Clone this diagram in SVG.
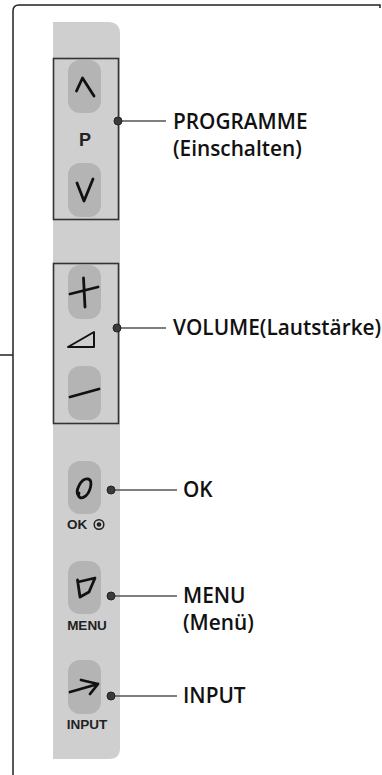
<svg xmlns="http://www.w3.org/2000/svg" width="382" height="775" viewBox="0 0 382 775">
<style>
.frame{fill:none;stroke:#222;stroke-width:1.5}
.strip{fill:#cfcfcf}
.box{fill:none;stroke:#333;stroke-width:1.6}
.btn{fill:#b4b4b4}
.ico{fill:none;stroke:#111;stroke-width:2.8;stroke-linecap:round;stroke-linejoin:round}
.lbl{font-family:"Open Sans","Liberation Sans",sans-serif;font-weight:600;font-size:20.8px;fill:#111}
.small{font-family:"Liberation Sans",Arial,sans-serif;font-weight:bold;font-size:13.5px;fill:#222}
.line{stroke:#555;stroke-width:1.6}
.dot{fill:#3a3a3a;stroke:#222;stroke-width:1}
</style>
<g id="frame">
<path class="frame" d="M13,775 V11 Q13,5 19,5 H380 V8"/>
<line class="frame" x1="0" y1="355" x2="13" y2="355"/>
</g>
<g id="panel">
<path class="strip" d="M53,22 H108 Q120,22 120,34 V748 Q120,759 109,759 H53 Z"/>
</g>
<g id="programme">
<rect class="box" x="53.5" y="58.5" width="65" height="161"/>
<rect class="btn" x="68" y="60" width="33" height="53" rx="12"/>
<rect class="btn" x="68" y="163" width="33" height="54" rx="12"/>
<path class="ico" d="M76.5,91 L82.5,78 L94,96"/>
<path class="ico" d="M77,183 L84,201 L93,179"/>
<text class="small" x="85" y="146" text-anchor="middle" style="font-size:18px">P</text>
</g>
<g id="volume">
<rect class="box" x="53.5" y="263.5" width="65" height="160"/>
<rect class="btn" x="68" y="265" width="33" height="54" rx="12"/>
<rect class="btn" x="68" y="366" width="33" height="54" rx="12"/>
<path class="ico" d="M70,294 L98,287 M83.5,278 L85,307"/>
<path class="ico" style="stroke-width:2" d="M68,347 L94,332 L94,347 Z"/>
<path class="ico" d="M70,397 L99,389"/>
</g>
<g id="ok">
<rect class="btn" x="68" y="461" width="33" height="53" rx="12"/>
<path class="ico" d="M79,496 C74,492 81,478 88,479 C94,480 90,494 84,497 C81,499 77,497 79,493"/>
<text class="small" x="67" y="529">OK</text>
<circle cx="99" cy="524.5" r="4.8" fill="none" stroke="#222" stroke-width="1.5"/>
<circle cx="99" cy="524.5" r="2.3" fill="#222"/>
</g>
<g id="menu">
<rect class="btn" x="68" y="561" width="33" height="53" rx="12"/>
<path class="ico" d="M77.5,580 L80,597 L89,592 L95,578 L78,582"/>
<text class="small" x="87" y="630" text-anchor="middle">MENU</text>
</g>
<g id="input">
<rect class="btn" x="68" y="660" width="33" height="54" rx="12"/>
<path class="ico" d="M70,692 L98,684 M81,680 L98,684 L90,694"/>
<text class="small" x="87" y="729" text-anchor="middle">INPUT</text>
</g>
<g id="connectors">
<line class="line" x1="118" y1="121" x2="166" y2="121"/>
<line class="line" x1="117" y1="328" x2="166" y2="328"/>
<line class="line" x1="111" y1="490" x2="177" y2="490"/>
<line class="line" x1="111" y1="596" x2="177" y2="596"/>
<line class="line" x1="111" y1="696" x2="177" y2="696"/>
<circle class="dot" cx="118" cy="121" r="4"/>
<circle class="dot" cx="117" cy="328" r="4"/>
<circle class="dot" cx="111" cy="490" r="4"/>
<circle class="dot" cx="111" cy="596" r="4"/>
<circle class="dot" cx="111" cy="696" r="4"/>
</g>
<g id="labels">
<text class="lbl" x="173" y="129">PROGRAMME</text>
<text class="lbl" x="173" y="156">(Einschalten)</text>
<text class="lbl" x="173" y="335">VOLUME(Lautstärke)</text>
<text class="lbl" x="183" y="497">OK</text>
<text class="lbl" x="183" y="603">MENU</text>
<text class="lbl" x="183" y="630">(Menü)</text>
<text class="lbl" x="183" y="703">INPUT</text>
</g>
</svg>
